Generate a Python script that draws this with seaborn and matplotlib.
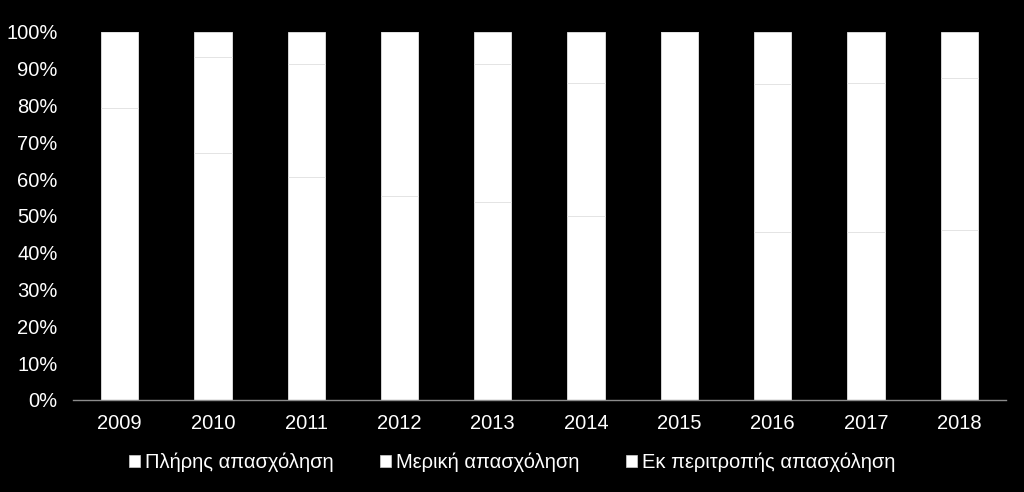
import numpy as np
import pandas as pd
import seaborn as sns
import matplotlib.pyplot as plt
from matplotlib.patches import Patch
from matplotlib.ticker import PercentFormatter

years = ["2009", "2010", "2011", "2012", "2013", "2014", "2015", "2016", "2017", "2018"]
full_time = [79.3, 67.0, 60.5, 55.5, 53.9, 49.9, 100.0, 45.7, 45.7, 46.2]
part_time = [20.7, 26.1, 30.8, 44.5, 37.4, 36.3, 0.0, 40.1, 40.5, 41.4]
rotation = [0.0, 6.9, 8.7, 0.0, 8.7, 13.8, 0.0, 14.2, 13.8, 12.4]
labels = ["Πλήρης απασχόληση", "Μερική απασχόληση", "Εκ περιτροπής απασχόληση"]

df = pd.DataFrame({"year": years, "full": full_time, "part": part_time, "rot": rotation})

sns.set_style("dark")
plt.rcParams["font.family"] = ["Liberation Sans", "DejaVu Sans"]

fig = plt.figure(figsize=(10.24, 4.92), dpi=100, facecolor="black")
ax = fig.add_axes([0.0713, 0.187, 0.911, 0.748])
ax.set_facecolor("black")

bottom = np.zeros(len(df))
for col in ["full", "part", "rot"]:
    sns.barplot(data=df, x="year", y=col, bottom=bottom, color="white",
                saturation=1, width=0.4, edgecolor="#e4e4e4", linewidth=0.6, ax=ax)
    bottom = bottom + df[col].to_numpy()

ax.set_ylim(0, 100)
ax.set_xlim(-0.5, len(years) - 0.5)
ax.set_yticks(np.arange(0, 101, 10))
ax.yaxis.set_major_formatter(PercentFormatter(decimals=0))
ax.set_xlabel("")
ax.set_ylabel("")
ax.tick_params(axis="both", colors="white", labelsize=14.5, length=0)
ax.tick_params(axis="x", pad=10)
ax.tick_params(axis="y", pad=11)
for s in ["top", "right", "left"]:
    ax.spines[s].set_visible(False)
ax.spines["bottom"].set_visible(True)
ax.spines["bottom"].set_color("#8c8c8c")
ax.spines["bottom"].set_linewidth(1.0)
ax.grid(False)

handles = [Patch(facecolor="white", edgecolor="#d0d0d0", linewidth=0.5) for _ in labels]
leg = fig.legend(handles, labels, loc="center", bbox_to_anchor=(0.5, 0.060), ncol=3,
                 frameon=False, fontsize=14.5, handlelength=0.55, handleheight=0.55,
                 handletextpad=0.25, columnspacing=2.3, labelcolor="white",
                 borderpad=0, borderaxespad=0)

fig.savefig("out.png", dpi=100, facecolor="black")
